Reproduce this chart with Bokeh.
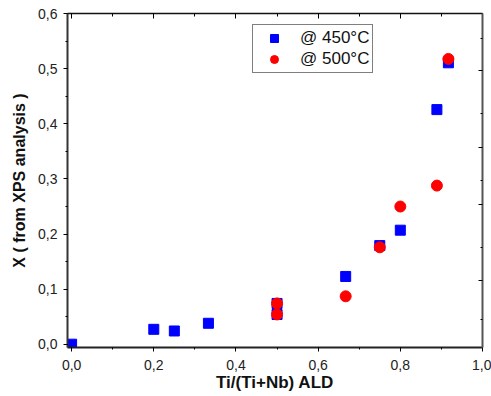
from bokeh.plotting import figure
from bokeh.models import (LinearAxis, SingleIntervalTicker, FixedTicker, Range1d,
                          CustomJSTickFormatter, Legend, LegendItem)
from bokeh.embed import file_html
from bokeh.resources import INLINE

# Data
x450 = [0.0, 0.2, 0.25, 0.333, 0.5, 0.5, 0.667, 0.75, 0.8, 0.889, 0.917]
y450 = [0.0, 0.027, 0.024, 0.038, 0.074, 0.054, 0.123, 0.179, 0.207, 0.426, 0.511]
x500 = [0.5, 0.5, 0.667, 0.75, 0.8, 0.889, 0.917]
y500 = [0.074, 0.054, 0.087, 0.176, 0.250, 0.288, 0.518]
labels = ["@ 450°C", "@ 500°C"]

FONT = "Liberation Sans"

p = figure(width=491, height=396, output_backend="svg", toolbar_location=None,
           x_range=Range1d(-0.01, 1.0), y_range=Range1d(-0.006, 0.6005),
           x_axis_location=None, y_axis_location=None,
           min_border_left=67, min_border_right=9, min_border_top=13, min_border_bottom=49)
p.outline_line_color = None
p.xgrid.visible = False
p.ygrid.visible = False
p.background_fill_color = "white"

fmt = CustomJSTickFormatter(code="return tick.toFixed(1).replace('.', ',');")
blank = CustomJSTickFormatter(code="return '';")

# Bottom axis
xb = LinearAxis(ticker=SingleIntervalTicker(interval=0.2, num_minor_ticks=2), formatter=fmt,
                axis_label="Ti/(Ti+Nb) ALD")
xb.major_tick_out = 4; xb.major_tick_in = 0
xb.minor_tick_out = 2; xb.minor_tick_in = 0
xb.axis_line_width = 2; xb.axis_line_color = "#222222"
xb.major_label_text_font = FONT; xb.major_label_text_font_size = "14px"
xb.major_label_text_color = "#222222"
xb.major_label_standoff = 8
xb.axis_label_text_font = FONT; xb.axis_label_text_font_style = "bold"
xb.axis_label_text_font_size = "17px"; xb.axis_label_text_color = "#111111"
xb.axis_label_standoff = 0
p.add_layout(xb, "below")

# Left axis
yl = LinearAxis(ticker=SingleIntervalTicker(interval=0.1, num_minor_ticks=2), formatter=fmt,
                axis_label="X ( from XPS analysis )")
yl.major_tick_out = 4; yl.major_tick_in = 0
yl.minor_tick_out = 2; yl.minor_tick_in = 0
yl.axis_line_width = 2; yl.axis_line_color = "#333333"
yl.major_label_text_font = FONT; yl.major_label_text_font_size = "14px"
yl.major_label_text_color = "#222222"
yl.major_label_standoff = 6
yl.axis_label_text_font = FONT; yl.axis_label_text_font_style = "bold"
yl.axis_label_text_font_size = "16px"; yl.axis_label_text_color = "#111111"
yl.axis_label_standoff = 7
p.add_layout(yl, "left")

# Top axis (frame)
xt = LinearAxis(ticker=SingleIntervalTicker(interval=0.2, num_minor_ticks=2), formatter=blank)
xt.major_tick_in = 5; xt.major_tick_out = 0
xt.minor_tick_in = 3; xt.minor_tick_out = 0
xt.axis_line_width = 1.5; xt.axis_line_color = "#111111"
xt.major_label_text_font_size = "1px"
xt.major_label_standoff = 0
p.add_layout(xt, "above")

# Right axis (frame)
yr = LinearAxis(ticker=FixedTicker(ticks=[0.497, 0.357, 0.254, 0.116],
                                   minor_ticks=[0.556, 0.419, 0.297, 0.176, 0.045]),
                formatter=blank)
yr.major_tick_in = 4; yr.major_tick_out = 0
yr.minor_tick_in = 2; yr.minor_tick_out = 0
yr.axis_line_width = 2; yr.axis_line_color = "#555555"
yr.major_label_text_font_size = "1px"
yr.major_label_standoff = 0
p.add_layout(yr, "right")

r450 = p.scatter(x450, y450, marker="square", size=10, fill_color="#0000FF", line_color="#0000FF")
r500 = p.scatter(x500, y500, marker="circle", size=11, fill_color="#FF0000", line_color="#FF0000")

legend = Legend(items=[LegendItem(label=labels[0], renderers=[r450]),
                       LegendItem(label=labels[1], renderers=[r500])],
                location=(185, 274))
legend.border_line_color = "black"
legend.border_line_width = 1
legend.background_fill_color = "white"
legend.background_fill_alpha = 1
legend.padding = 3
legend.margin = 0
legend.spacing = 1
legend.glyph_width = 36
legend.glyph_height = 20
legend.label_standoff = 8
legend.label_text_font = FONT
legend.label_text_font_size = "17px"
legend.label_text_color = "#111111"
legend.label_height = 20
p.add_layout(legend, "center")

open("out.html", "w").write(file_html(p, INLINE))
